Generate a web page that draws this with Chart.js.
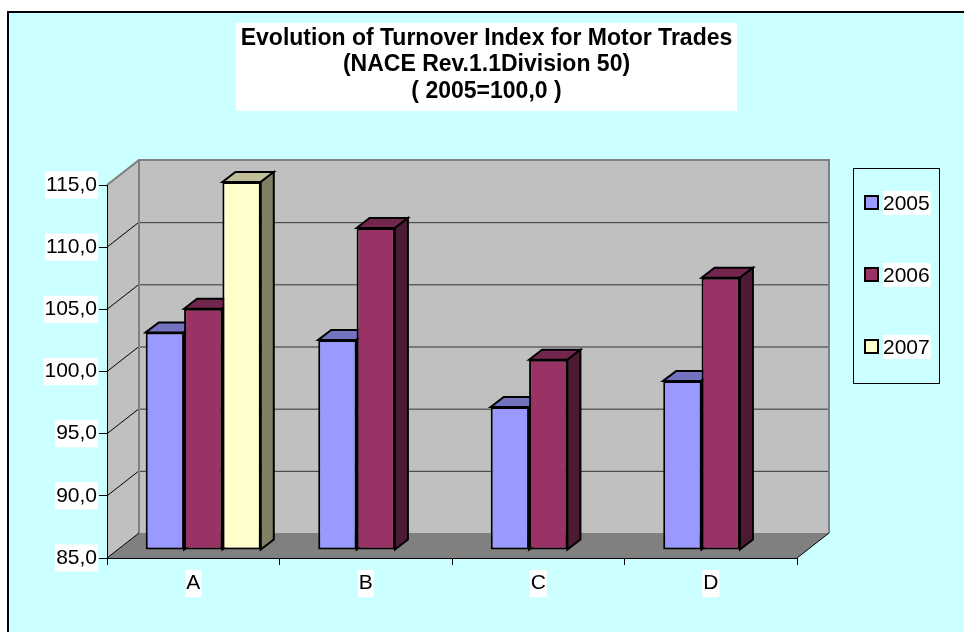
<!DOCTYPE html>
<html>
<head>
<meta charset="utf-8">
<script src="https://cdn.jsdelivr.net/npm/chart.js@4"></script>
<style>
  body { margin: 0; background: #fff; }
  canvas { display: block; }
</style>
</head>
<body>
<canvas id="chart" width="964" height="632"></canvas>
<script>
const categories = ["A", "B", "C", "D"];
const years = ["2005", "2006", "2007"];
const values2005 = [102.5, 101.9, 96.5, 98.6];
const values2006 = [104.4, 110.9, 100.3, 106.9];
const values2007 = [114.6, null, null, null];
const yTicks = [85, 90, 95, 100, 105, 110, 115];
const titleLines = ["Evolution of Turnover Index for Motor Trades", "(NACE Rev.1.1Division 50)", "( 2005=100,0 )"];

const frontColors = ["#9999FF", "#993366", "#FFFFCC"];
const topColors = ["#7373BF", "#73264D", "#BFBF99"];
const sideColors = ["#4D4D80", "#4D1A33", "#808066"];

const FONT = '"Liberation Sans", Arial, sans-serif';
const wall = { dx: 32, dy: -25 };
const shift = { dx: 10, dy: -8 };
const depth = { dx: 13, dy: -10 };

function poly(ctx, pts, fill, stroke, lw) {
  ctx.beginPath();
  ctx.moveTo(pts[0][0], pts[0][1]);
  for (let i = 1; i < pts.length; i++) ctx.lineTo(pts[i][0], pts[i][1]);
  ctx.closePath();
  if (fill) { ctx.fillStyle = fill; ctx.fill(); }
  if (stroke) { ctx.strokeStyle = stroke; ctx.lineWidth = lw || 1; ctx.stroke(); }
}

// walls, floor and grid of the 3d box
const boxPlugin = {
  id: "box3d",
  beforeDraw(chart) {
    const ctx = chart.ctx;
    const y = chart.scales.y;
    const x = chart.scales.x;
    const L = x.left, R = x.right;
    const T = y.getPixelForValue(115), B = y.getPixelForValue(85);

    ctx.save();
    ctx.fillStyle = "#CCFFFF";
    ctx.fillRect(7, 11, 964, 632);
    ctx.strokeStyle = "#000";
    ctx.lineWidth = 2;
    ctx.beginPath();
    ctx.moveTo(8, 640); ctx.lineTo(8, 12); ctx.lineTo(970, 12);
    ctx.stroke();

    // back wall
    poly(ctx, [[L + wall.dx, T + wall.dy], [R + wall.dx, T + wall.dy], [R + wall.dx, B + wall.dy], [L + wall.dx, B + wall.dy]], "#C0C0C0");
    // side wall
    poly(ctx, [[L, T], [L + wall.dx, T + wall.dy], [L + wall.dx, B + wall.dy], [L, B]], "#C0C0C0");
    // floor
    poly(ctx, [[L, B], [L + wall.dx, B + wall.dy], [R + wall.dx, B + wall.dy], [R, B]], "#808080");

    // grid lines
    yTicks.forEach((v) => {
      if (v === 85) return;
      const py = y.getPixelForValue(v);
      ctx.lineWidth = 1;
      ctx.strokeStyle = "#333";
      if (v !== 115) {
        ctx.beginPath();
        ctx.moveTo(L + wall.dx, py + wall.dy + 0.5);
        ctx.lineTo(R + wall.dx, py + wall.dy + 0.5);
        ctx.stroke();
      }
      ctx.strokeStyle = "#000";
      ctx.beginPath();
      ctx.moveTo(L, py);
      ctx.lineTo(L + wall.dx, py + wall.dy);
      ctx.stroke();
    });

    // wall edges
    ctx.strokeStyle = "#808080";
    ctx.lineWidth = 2;
    ctx.beginPath();
    ctx.moveTo(L, T);
    ctx.lineTo(L + wall.dx, T + wall.dy);
    ctx.lineTo(R + wall.dx, T + wall.dy);
    ctx.lineTo(R + wall.dx, B + wall.dy);
    ctx.moveTo(L + wall.dx, T + wall.dy);
    ctx.lineTo(L + wall.dx, B + wall.dy);
    ctx.stroke();

    ctx.strokeStyle = "#000";
    ctx.lineWidth = 1;
    ctx.beginPath();
    ctx.moveTo(L, B);
    ctx.lineTo(L + wall.dx, B + wall.dy);
    ctx.moveTo(R, B);
    ctx.lineTo(R + wall.dx, B + wall.dy);
    ctx.stroke();
    ctx.restore();
  },
  beforeDatasetsDraw(chart) {
    const ctx = chart.ctx;
    ctx.save();
    ctx.translate(shift.dx, shift.dy);
    chart.data.datasets.forEach((ds, di) => {
      const meta = chart.getDatasetMeta(di);
      meta.data.forEach((bar, i) => {
        if (ds.data[i] == null) return;
        const l = bar.x - bar.width / 2, r = bar.x + bar.width / 2;
        const t = bar.y, b = bar.base;
        poly(ctx, [[l, t], [l + depth.dx, t + depth.dy], [r + depth.dx, t + depth.dy], [r, t]], topColors[di], "#000", 2);
        poly(ctx, [[r, t], [r + depth.dx, t + depth.dy], [r + depth.dx, b + depth.dy], [r, b]], sideColors[di], "#000", 2);
      });
    });
  },
  afterDatasetsDraw(chart) {
    chart.ctx.restore();
  },
  afterDraw(chart) {
    const ctx = chart.ctx;
    ctx.save();
    // title
    ctx.fillStyle = "#fff";
    ctx.fillRect(236, 23, 501, 88);
    ctx.fillStyle = "#000";
    ctx.font = "bold 23px " + FONT;
    ctx.textAlign = "center";
    ctx.textBaseline = "middle";
    titleLines.forEach((s, i) => ctx.fillText(s, 486.5, 38.5 + i * 26.5));

    // legend
    ctx.strokeStyle = "#000";
    ctx.lineWidth = 1;
    ctx.strokeRect(853.5, 168.5, 86, 215);
    ctx.font = "21px " + FONT;
    ctx.textAlign = "left";
    years.forEach((yr, i) => {
      const cy = 203 + i * 72;
      ctx.fillStyle = frontColors[i];
      ctx.fillRect(865, cy - 7, 13, 13);
      ctx.strokeStyle = "#000";
      ctx.lineWidth = 2;
      ctx.strokeRect(865, cy - 7, 13, 13);
      const w = ctx.measureText(yr).width;
      ctx.fillStyle = "#fff";
      ctx.fillRect(883, cy - 12, w + 1, 24);
      ctx.fillStyle = "#000";
      ctx.fillText(yr, 883, cy + 1);
    });
    ctx.restore();
  }
};

const ctx = document.getElementById("chart").getContext("2d");
new Chart(ctx, {
  type: "bar",
  data: {
    labels: categories,
    datasets: [values2005, values2006, values2007].map((vals, i) => ({
      label: years[i],
      data: vals,
      base: 85,
      backgroundColor: frontColors[i],
      borderColor: "#000",
      borderWidth: 2,
      borderSkipped: false,
      categoryPercentage: 0.667,
      barPercentage: 1.0,
      clip: false
    }))
  },
  plugins: [boxPlugin],
  options: {
    responsive: false,
    devicePixelRatio: 1,
    animation: false,
    layout: { padding: { top: 185, right: 167, bottom: 0, left: 0 } },
    plugins: { legend: { display: false }, title: { display: false }, tooltip: { enabled: false } },
    scales: {
      x: {
        afterFit: (s) => { s.height = 74; },
        grid: { display: true, drawOnChartArea: false, drawTicks: true, tickLength: 7, color: "#000", offset: true },
        border: { display: true, color: "#000", width: 1 },
        ticks: {
          color: "#000", font: { family: FONT, size: 21 }, padding: 6,
          showLabelBackdrop: true, backdropColor: "#fff", backdropPadding: 1
        }
      },
      y: {
        min: 85, max: 115,
        afterFit: (s) => { s.width = 107; },
        afterBuildTicks: (s) => { s.ticks = yTicks.map((v) => ({ value: v })); },
        grid: { display: true, drawOnChartArea: false, drawTicks: true, tickLength: 8, color: "#000" },
        border: { display: true, color: "#000", width: 1 },
        ticks: {
          color: "#000", font: { family: FONT, size: 21 }, padding: 2,
          showLabelBackdrop: true, backdropColor: "#fff", backdropPadding: 1,
          callback: (v) => v.toFixed(1).replace(".", ",")
        }
      }
    }
  }
});
</script>
</body>
</html>
